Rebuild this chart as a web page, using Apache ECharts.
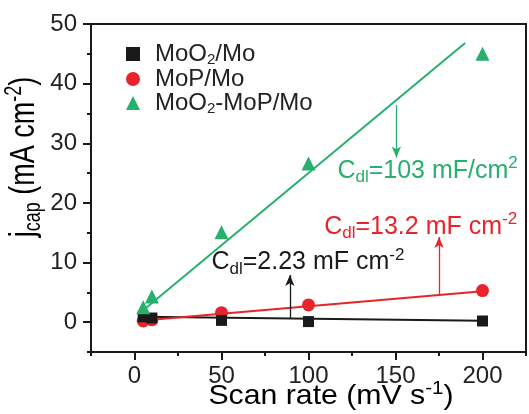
<!DOCTYPE html>
<html>
<head>
<meta charset="utf-8">
<script src="https://cdn.jsdelivr.net/npm/echarts@6/dist/echarts.min.js"></script>
<style>
html,body{margin:0;padding:0;background:#fff;}
#chart{width:529px;height:414px;}
</style>
</head>
<body>
<div id="chart"></div>
<script>
// ---- data ----
const scanRates = [5, 10, 50, 100, 200];
const moo2Mo = [0.9, 0.7, 0.3, 0.1, 0.2];
const mopMo = [0.2, 0.4, 1.6, 2.9, 5.3];
const moo2MopMo = [2.5, 4.3, 15.1, 26.6, 45.0];

const fitXBlack = [5, 200];
const fitYBlack = [0.9, 0.25];
const fitXRed = [5, 200];
const fitYRed = [0.3, 5.2];
const fitXGreen = [5, 190];
const fitYGreen = [2.0, 46.8];

const seriesNames = ['MoO2/Mo', 'MoP/Mo', 'MoO2-MoP/Mo'];
const xTickLabels = [0, 50, 100, 150, 200];
const yTickLabels = [0, 10, 20, 30, 40, 50];

// annotation arrows [x, yFrom, yTo] and label anchors [x, y]
const arrowGreen = [150.5, 36.4, 27.6];
const arrowRed = [175, 4.6, 14.3];
const arrowBlack = [89.3, 0.7, 7.9];
const labelGreenPos = [116.6, 25.4];
const labelRedPos = [109, 16.0];
const labelBlackPos = [44.2, 10.1];

const GREEN = '#26b06c';
const RED = '#e8242a';
const BLACK = '#1a1a1a';
const FONT = '"Liberation Sans", Arial, sans-serif';

function zip(xs, ys) { return xs.map((x, i) => [x, ys[i]]); }

function richStyles(color, size) {
  const small = Math.round(size * 0.68);
  return {
    t: {fontSize: size, fontFamily: FONT, color: color, lineHeight: size + 6},
    s: {fontSize: small, fontFamily: FONT, color: color, verticalAlign: 'bottom', lineHeight: small},
    p: {fontSize: small, fontFamily: FONT, color: color, verticalAlign: 'top', lineHeight: Math.round(size * 0.6)}
  };
}

function arrowMark(a, color) {
  return {
    silent: true,
    symbol: ['none', 'arrow'],
    symbolSize: [7, 11],
    label: {show: false},
    lineStyle: {color: color, width: 1.3, type: 'solid'},
    emphasis: {disabled: true},
    data: [[{coord: [a[0], a[1]]}, {coord: [a[0], a[2]]}]]
  };
}

function labelMark(pos, text, color) {
  return {
    silent: true,
    symbol: 'circle',
    symbolSize: 0,
    label: {
      show: true, position: 'right', distance: 0,
      formatter: text,
      rich: richStyles(color, 25)
    },
    data: [{coord: pos}]
  };
}

const legendRich = {
  t: {fontSize: 24, fontFamily: FONT, color: '#222', lineHeight: 26},
  s: {fontSize: 15, fontFamily: FONT, color: '#222', verticalAlign: 'bottom', lineHeight: 13}
};
const legendText = {
  'MoO2/Mo': '{t|MoO}{s|2}{t|/Mo}',
  'MoP/Mo': '{t|MoP/Mo}',
  'MoO2-MoP/Mo': '{t|MoO}{s|2}{t|-MoP/Mo}'
};

const chart = echarts.init(document.getElementById('chart'), null, {renderer: 'canvas'});

const xAxisCommon = {
  type: 'value', min: -25, max: 225, interval: 25,
  splitLine: {show: false}
};
const yAxisCommon = {
  type: 'value', min: -5, max: 50, interval: 5,
  splitLine: {show: false}
};

const option = {
  animation: false,
  backgroundColor: '#fff',
  grid: {left: 91, top: 24, width: 443, height: 328, show: true, borderColor: BLACK, borderWidth: 2, backgroundColor: 'transparent'},
  legend: {
    data: seriesNames,
    orient: 'vertical',
    left: 121, top: 37,
    itemWidth: 14, itemHeight: 14,
    itemGap: 0,
    selectedMode: false,
    formatter: n => legendText[n],
    textStyle: {rich: legendRich, padding: [0, 0, 0, 10]}
  },
  xAxis: [
    Object.assign({}, xAxisCommon, {
      position: 'bottom',
      axisLine: {show: true, onZero: false, lineStyle: {color: BLACK, width: 2}},
      axisTick: {show: true, inside: false, length: 4, lineStyle: {color: BLACK, width: 2}},
      axisLabel: {
        show: true, margin: 12, fontSize: 24, fontFamily: FONT, color: '#222',
        formatter: v => xTickLabels.indexOf(v) >= 0 ? String(v) : ''
      }
    }),
    Object.assign({}, xAxisCommon, {
      position: 'bottom',
      axisLine: {show: false, onZero: false},
      axisTick: {show: true, length: 8, customValues: xTickLabels, lineStyle: {color: BLACK, width: 2}},
      axisLabel: {show: false}
    })
  ],
  yAxis: [
    Object.assign({}, yAxisCommon, {
      position: 'left',
      axisLine: {show: true, onZero: false, lineStyle: {color: BLACK, width: 2}},
      axisTick: {show: true, inside: false, length: 4, lineStyle: {color: BLACK, width: 2}},
      axisLabel: {
        show: true, margin: 14, fontSize: 24, fontFamily: FONT, color: '#222',
        formatter: v => yTickLabels.indexOf(v) >= 0 ? String(v) : ''
      }
    }),
    Object.assign({}, yAxisCommon, {
      position: 'left',
      axisLine: {show: false, onZero: false},
      axisTick: {show: true, length: 8, customValues: yTickLabels, lineStyle: {color: BLACK, width: 2}},
      axisLabel: {show: false}
    })
  ],
  graphic: [
    {
      type: 'text', x: 331, y: 396, scaleX: 1.08, silent: true,
      style: {
        text: '{t|Scan rate (mV s}{p|-1}{t|)}',
        rich: richStyles('#222', 28),
        align: 'center', verticalAlign: 'middle'
      }
    },
    {
      type: 'text', x: 24, y: 157, rotation: Math.PI / 2, scaleY: 1.3, silent: true,
      style: {
        text: '{t|j}{s|cap}{t| (mA cm}{p|-2}{t|)}',
        rich: richStyles('#222', 27),
        align: 'center', verticalAlign: 'middle'
      }
    }
  ],
  series: [
    {
      type: 'line', xAxisIndex: 0, yAxisIndex: 0, data: zip(fitXBlack, fitYBlack),
      symbol: 'none', lineStyle: {color: BLACK, width: 2}, z: 2, silent: true,
      markLine: arrowMark(arrowBlack, BLACK),
      markPoint: labelMark(labelBlackPos, '{t|C}{s|dl}{t|=2.23 mF cm}{p|-2}', BLACK)
    },
    {
      type: 'line', xAxisIndex: 0, yAxisIndex: 0, data: zip(fitXRed, fitYRed),
      symbol: 'none', lineStyle: {color: RED, width: 2}, z: 2, silent: true,
      markLine: arrowMark(arrowRed, RED),
      markPoint: labelMark(labelRedPos, '{t|C}{s|dl}{t|=13.2 mF cm}{p|-2}', RED)
    },
    {
      type: 'line', xAxisIndex: 0, yAxisIndex: 0, data: zip(fitXGreen, fitYGreen),
      symbol: 'none', lineStyle: {color: GREEN, width: 2}, z: 2, silent: true,
      markLine: arrowMark(arrowGreen, GREEN),
      markPoint: labelMark(labelGreenPos, '{t|C}{s|dl}{t|=103 mF/cm}{p|2}', GREEN)
    },
    {
      name: seriesNames[0], type: 'scatter', xAxisIndex: 0, yAxisIndex: 0,
      data: zip(scanRates, moo2Mo), symbol: 'rect', symbolSize: 11,
      itemStyle: {color: BLACK, opacity: 1}, z: 5
    },
    {
      name: seriesNames[1], type: 'scatter', xAxisIndex: 0, yAxisIndex: 0,
      data: zip(scanRates, mopMo), symbol: 'circle', symbolSize: 13,
      itemStyle: {color: RED, opacity: 1}, z: 4
    },
    {
      name: seriesNames[2], type: 'scatter', xAxisIndex: 0, yAxisIndex: 0,
      data: zip(scanRates, moo2MopMo), symbol: 'triangle', symbolSize: 14,
      itemStyle: {color: GREEN, opacity: 1}, z: 6
    }
  ]
};
chart.setOption(option);
</script>
</body>
</html>
